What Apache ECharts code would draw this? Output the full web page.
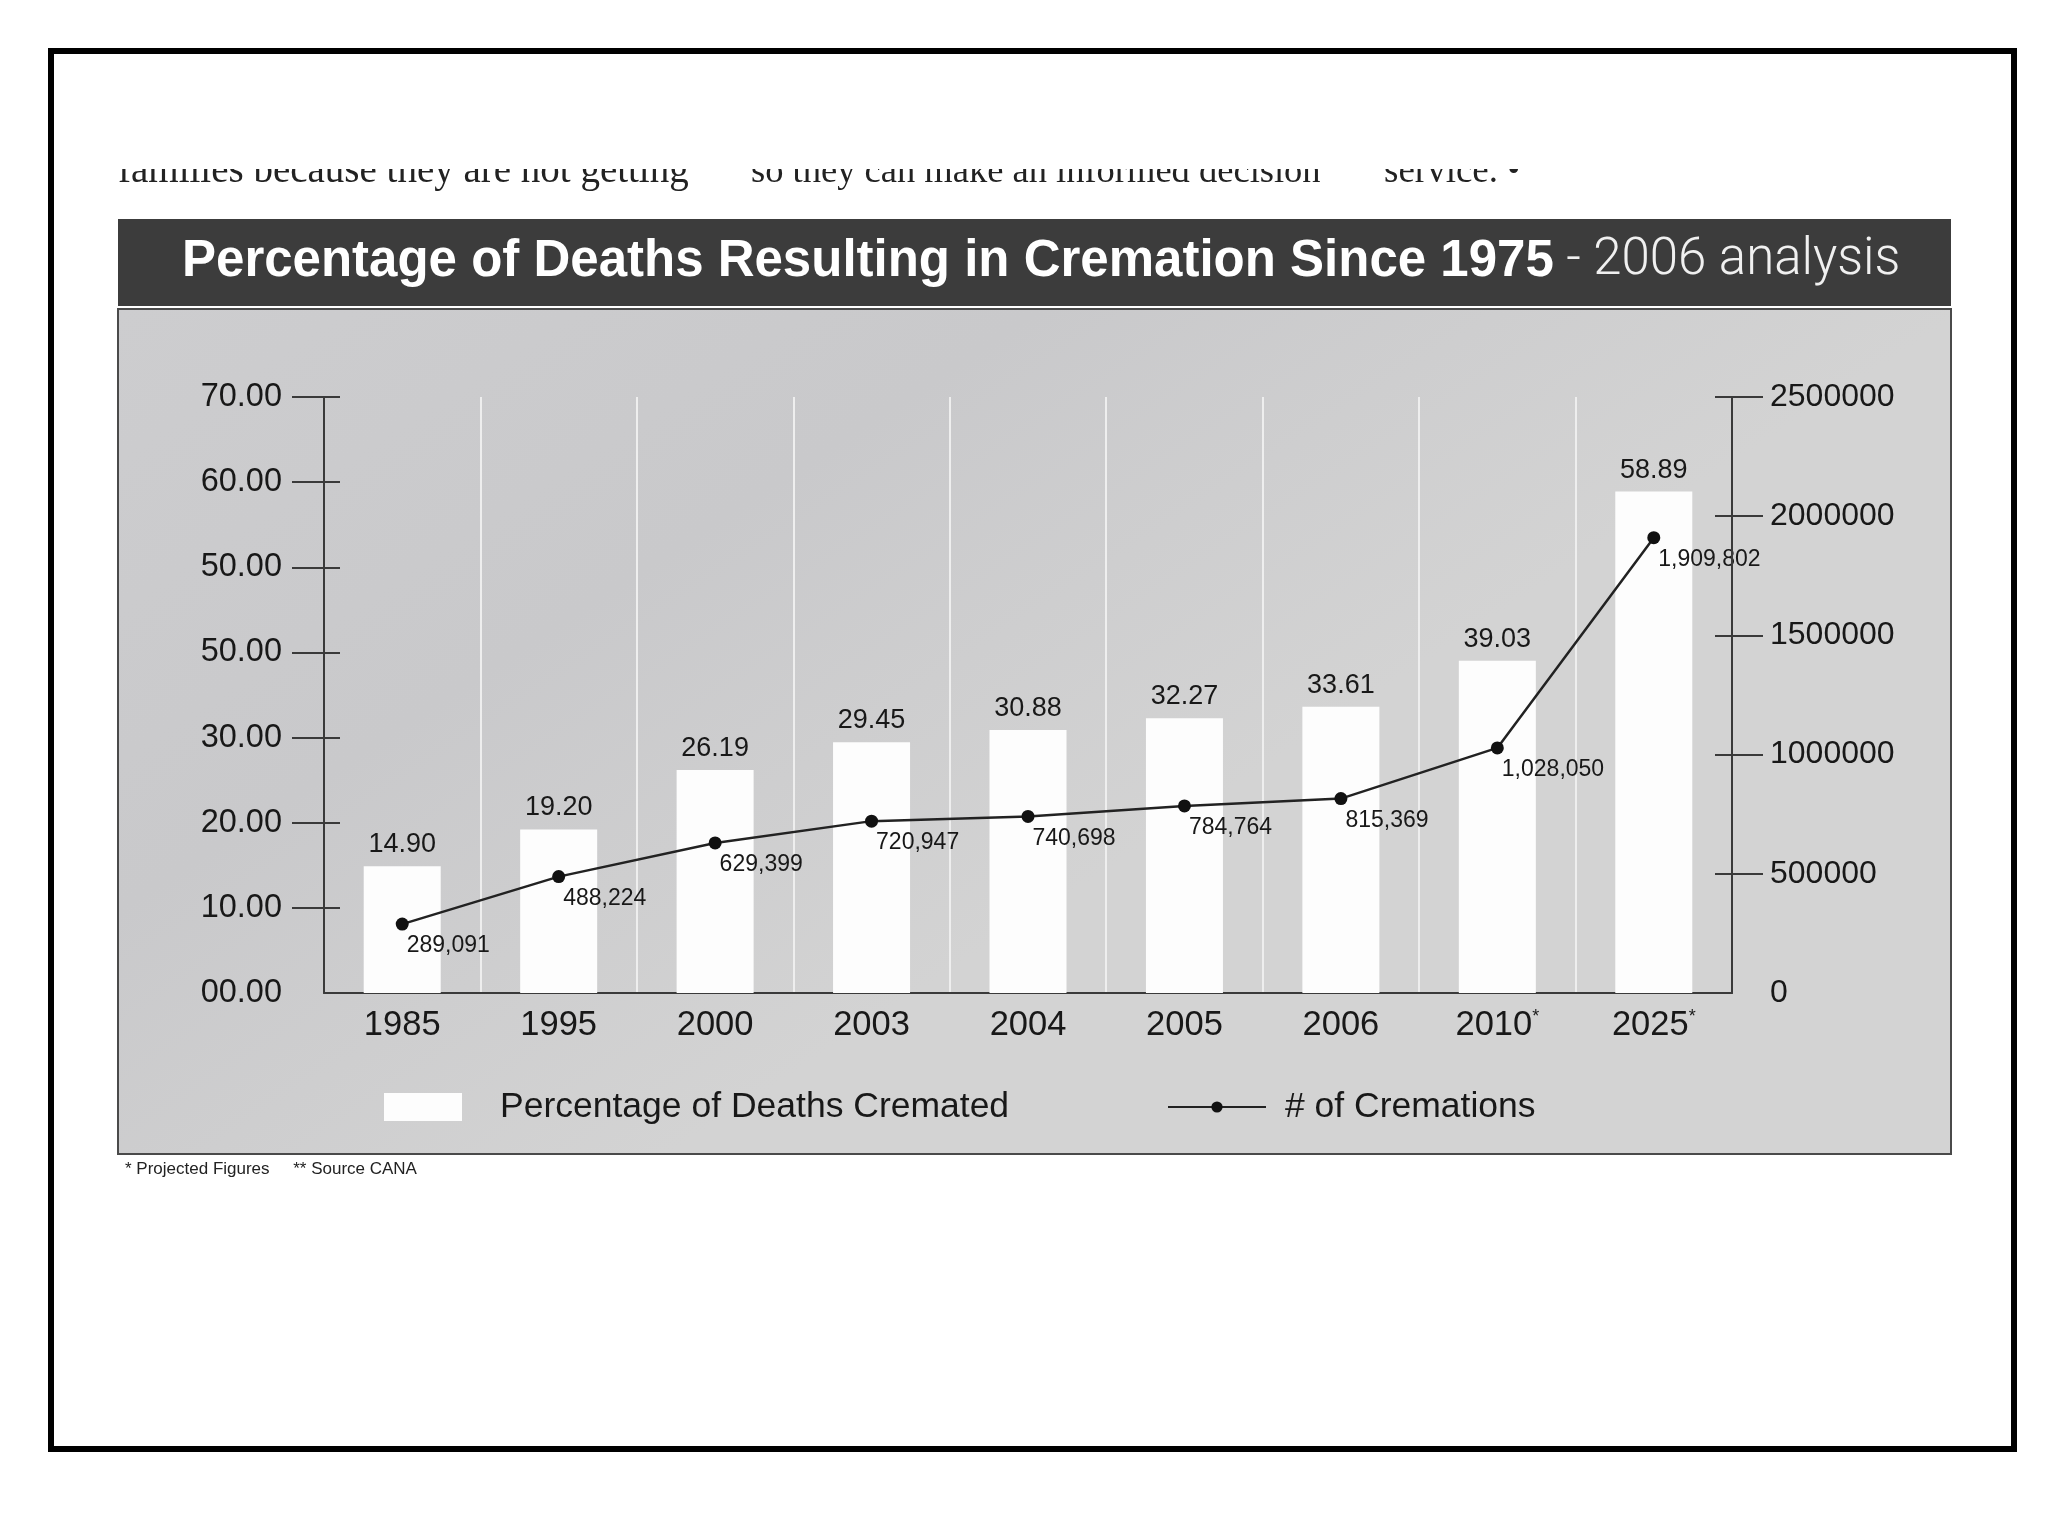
<!DOCTYPE html>
<html><head><meta charset="utf-8">
<script src="https://cdn.jsdelivr.net/npm/echarts@6/dist/echarts.min.js"></script>
<style>html,body{margin:0;padding:0;background:#fff}#c{width:2048px;height:1536px}</style>
</head><body><div id="c"></div>
<script>
// ---- data ----
const categories = ['1985', '1995', '2000', '2003', '2004', '2005', '2006', '2010*', '2025*'];
const pctCremated = [14.90, 19.20, 26.19, 29.45, 30.88, 32.27, 33.61, 39.03, 58.89];
const numCremations = [289091, 488224, 629399, 720947, 740698, 784764, 815369, 1028050, 1909802];
const leftTickLabels = ['00.00', '10.00', '20.00', '30.00', '50.00', '50.00', '60.00', '70.00'];
const rightTickLabels = ['0', '500000', '1000000', '1500000', '2000000', '2500000'];
const leftTickValues = [0, 10, 20, 30, 40, 50, 60, 70];
const rightTickValues = [0, 500000, 1000000, 1500000, 2000000, 2500000];
const bodyTextPieces = ['families because they are not getting', 'so they can make an informed decision', 'service. \u2022'];
const footnote = '* Projected Figures     ** Source CANA';

const FONT = '"Liberation Sans", Arial, Helvetica, sans-serif';
const SERIF = '"Liberation Serif", "Times New Roman", serif';
const INK = '#181818';
const AXIS = '#3a3a3a';

const chart = echarts.init(document.getElementById('c'), null, { renderer: 'canvas' });

function bodyText(str, x, size) {
  return { type: 'text', z: -10, x: x, y: 152 + (39 - size) * 0.8,
    style: { text: str, fontSize: size, fontFamily: SERIF, fill: '#222', verticalAlign: 'top', align: 'left' } };
}

const option = {
  backgroundColor: '#ffffff',
  animation: false,
  textStyle: { fontFamily: FONT },
  graphic: [
    { type: 'rect', z: -10, shape: { x: 51, y: 51, width: 1963, height: 1398 }, style: { fill: 'none', stroke: '#000', lineWidth: 6 } },
    bodyText(bodyTextPieces[0], 118, 39),
    bodyText(bodyTextPieces[1], 751, 36.5),
    bodyText(bodyTextPieces[2], 1384, 37),
    { type: 'rect', z: -8, shape: { x: 100, y: 110, width: 1600, height: 59 }, style: { fill: '#ffffff' } },
    { type: 'rect', z: -10, shape: { x: 118, y: 309, width: 1833, height: 845 },
      style: { fill: new echarts.graphic.LinearGradient(0, 0, 0.3, 1, [
        { offset: 0, color: '#cdcdcf' }, { offset: 0.5, color: '#c9c9cb' }, { offset: 1, color: '#d3d3d3' }]),
        stroke: '#4a4a4a', lineWidth: 2 } },
    { type: 'rect', z: -10, shape: { x: 118, y: 219, width: 1833, height: 87 }, style: { fill: '#3c3c3c' } },
    { type: 'text', z: -10, x: 125, y: 1161,
      style: { text: footnote, fontSize: 17, fontFamily: '"Liberation Sans Narrow", "Liberation Sans", Arial, sans-serif', fill: '#222', verticalAlign: 'top' } }
  ],
  title: {
    left: 177, top: 231,
    text: '{b|Percentage of Deaths Resulting in Cremation Since 1975}{l| - 2006 analysis}',
    textStyle: {
      rich: {
        b: { fontSize: 51, fontWeight: 'bold', color: '#ffffff', fontFamily: FONT },
        l: { fontSize: 51, fontWeight: 300, color: '#f0f0f0', fontFamily: 'Roboto, "Open Sans", sans-serif' }
      }
    }
  },
  legend: [
    { data: ['Percentage of Deaths Cremated'], left: 379, top: 1084, icon: 'rect', itemWidth: 78, itemHeight: 28,
      textStyle: { fontSize: 35.5, color: INK, padding: [0, 0, 0, 33] } },
    { data: ['# of Cremations'], left: 1162, top: 1084, itemWidth: 98, itemHeight: 14,
      textStyle: { fontSize: 35.5, color: INK, padding: [0, 0, 0, 14] } }
  ],
  grid: { left: 324, right: 316, top: 397, bottom: 543 },
  xAxis: {
    type: 'category', data: categories, z: 1,
    axisLine: { show: true, lineStyle: { color: AXIS, width: 2 } },
    axisTick: { show: false },
    axisLabel: {
      interval: 0, fontSize: 34.5, color: INK, margin: 15,
      formatter: v => v.endsWith('*') ? v.slice(0, -1) + '{s|*}' : v,
      rich: { s: { fontSize: 18, color: INK, verticalAlign: 'top', padding: [0, 0, 12, 0] } }
    },
    splitLine: { show: true, interval: 0, lineStyle: { color: '#eeeeee', width: 2 } }
  },
  yAxis: [
    { type: 'value', position: 'left', min: 0, max: 70, interval: 10, z: 5,
      axisLine: { show: true, lineStyle: { color: AXIS, width: 2 } },
      axisTick: { show: true, length: 32, customValues: leftTickValues.slice(1), lineStyle: { color: AXIS, width: 2 } },
      axisLabel: { fontSize: 32.5, color: INK, margin: 42, formatter: v => leftTickLabels[leftTickValues.indexOf(Math.round(v))] },
      splitLine: { show: false } },
    { type: 'value', position: 'left', min: 0, max: 70, interval: 10, z: 5,
      axisLine: { show: false },
      axisTick: { show: true, inside: true, length: 16, customValues: leftTickValues.slice(1), lineStyle: { color: AXIS, width: 2 } },
      axisLabel: { show: false }, splitLine: { show: false } },
    { type: 'value', position: 'right', min: 0, max: 2500000, interval: 500000, z: 5,
      axisLine: { show: true, lineStyle: { color: AXIS, width: 2 } },
      axisTick: { show: true, length: 31, customValues: rightTickValues.slice(1), lineStyle: { color: AXIS, width: 2 } },
      axisLabel: { fontSize: 32, color: INK, margin: 38, formatter: v => rightTickLabels[rightTickValues.indexOf(Math.round(v))] },
      splitLine: { show: false } },
    { type: 'value', position: 'right', min: 0, max: 2500000, interval: 500000, z: 5,
      axisLine: { show: false },
      axisTick: { show: true, inside: true, length: 17, customValues: rightTickValues.slice(1), lineStyle: { color: AXIS, width: 2 } },
      axisLabel: { show: false }, splitLine: { show: false } }
  ],
  series: [
    { name: 'Percentage of Deaths Cremated', type: 'bar', yAxisIndex: 0, data: pctCremated, barWidth: 77,
      itemStyle: { color: '#fdfdfd' },
      label: { show: true, position: 'top', distance: 8, fontSize: 27, color: INK, formatter: p => p.value.toFixed(2) } },
    { name: '# of Cremations', type: 'line', yAxisIndex: 2, data: numCremations, z: 4,
      symbol: 'circle', symbolSize: 13, itemStyle: { color: '#111' },
      lineStyle: { color: '#222', width: 2.5 },
      label: { show: true, position: 'right', distance: 0, offset: [-2, 22], fontSize: 23, color: INK,
        formatter: p => p.value.toLocaleString('en-US') } }
  ]
};
chart.setOption(option);
</script></body></html>
